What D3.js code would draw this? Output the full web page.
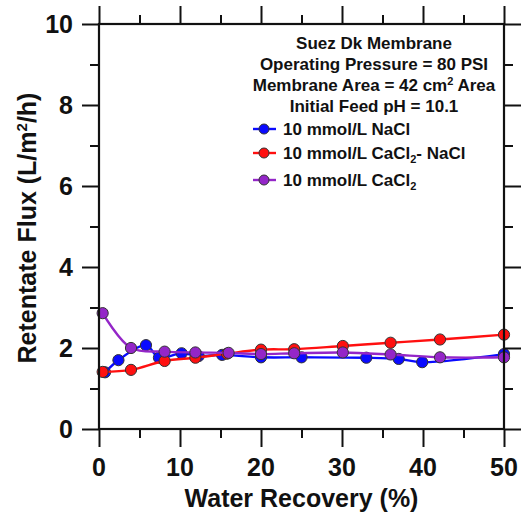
<!DOCTYPE html>
<html>
<head>
<meta charset="utf-8">
<script src="https://cdn.jsdelivr.net/npm/d3@7"></script>
<style>
  html, body { margin: 0; padding: 0; background: #fff; }
  svg { display: block; font-family: "Liberation Sans", Arial, sans-serif; font-weight: bold; }
</style>
</head>
<body>
<svg id="chart" width="522" height="518"></svg>
<script>
// Water recovery (%) and retentate flux (L/m²/h) per feed solution
const naclX = [0.74, 2.4, 5.8, 7.4, 10.2, 12.3, 15.2, 20, 25, 33, 37, 39.9, 50];
const naclY = [1.40, 1.70, 2.07, 1.76, 1.87, 1.80, 1.83, 1.77, 1.77, 1.76, 1.73, 1.65, 1.85];

const mixX = [0.45, 3.95, 8.1, 11.9, 15.8, 20, 24.1, 30.1, 36.0, 42.1, 50];
const mixY = [1.41, 1.46, 1.68, 1.76, 1.86, 1.96, 1.97, 2.05, 2.13, 2.21, 2.33];

const cacl2X = [0.45, 3.95, 8.1, 11.9, 16.0, 20, 24.1, 30.1, 36.0, 42.1, 50];
const cacl2Y = [2.86, 2.00, 1.91, 1.89, 1.88, 1.85, 1.87, 1.89, 1.84, 1.77, 1.77];

const xTicks = [0, 10, 20, 30, 40, 50];
const yTicks = [0, 2, 4, 6, 8, 10];
const xMinor = [5, 15, 25, 35, 45];
const yMinor = [1, 3, 5, 7, 9];

const headerLines = ["Suez Dk Membrane", "Operating Pressure = 80 PSI", "Initial Feed pH = 10.1"];

const series = [
  { name: "NaCl", x: naclX, y: naclY, color: "#0a0aff" },
  { name: "CaCl2-NaCl", x: mixX, y: mixY, color: "#ff1010" },
  { name: "CaCl2", x: cacl2X, y: cacl2Y, color: "#9426c8" }
];

const svg = d3.select("#chart");
const plotL = 99, plotR = 504, plotT = 24, plotB = 429;

const x = d3.scaleLinear().domain([0, 50]).range([plotL, plotR]);
const y = d3.scaleLinear().domain([0, 10]).range([plotB, plotT]);

// Data lines and markers
const line = d3.line().curve(d3.curveCatmullRom.alpha(0.5));
series.forEach(s => {
  const pts = s.x.map((v, i) => [x(v), y(s.y[i])]);
  svg.append("path")
    .attr("d", line(pts))
    .attr("fill", "none")
    .attr("stroke", s.color)
    .attr("stroke-width", 2.4);
  svg.append("g").selectAll("circle").data(pts).join("circle")
    .attr("cx", d => d[0]).attr("cy", d => d[1]).attr("r", 5.6)
    .attr("fill", s.color).attr("stroke", "#333").attr("stroke-width", 1);
});

// Frame axes: ticks outward on all four sides
function styleAxis(g) {
  g.select(".domain").remove();
  g.selectAll("line").attr("stroke", "#111").attr("stroke-width", 2);
  g.selectAll("text").remove();
}
svg.append("g").attr("transform", `translate(0,${plotB})`)
  .call(d3.axisBottom(x).tickValues(xTicks).tickSize(18)).call(styleAxis);
svg.append("g").attr("transform", `translate(0,${plotB})`)
  .call(d3.axisBottom(x).tickValues(xMinor).tickSize(9)).call(styleAxis);
svg.append("g").attr("transform", `translate(0,${plotT})`)
  .call(d3.axisTop(x).tickValues(xTicks).tickSize(18)).call(styleAxis);
svg.append("g").attr("transform", `translate(0,${plotT})`)
  .call(d3.axisTop(x).tickValues(xMinor).tickSize(9)).call(styleAxis);
svg.append("g").attr("transform", `translate(${plotL},0)`)
  .call(d3.axisLeft(y).tickValues(yTicks).tickSize(17)).call(styleAxis);
svg.append("g").attr("transform", `translate(${plotL},0)`)
  .call(d3.axisLeft(y).tickValues(yMinor).tickSize(9)).call(styleAxis);
svg.append("g").attr("transform", `translate(${plotR},0)`)
  .call(d3.axisRight(y).tickValues(yTicks).tickSize(17)).call(styleAxis);
svg.append("g").attr("transform", `translate(${plotR},0)`)
  .call(d3.axisRight(y).tickValues(yMinor).tickSize(9)).call(styleAxis);

svg.append("rect")
  .attr("x", plotL).attr("y", plotT).attr("width", plotR - plotL).attr("height", plotB - plotT)
  .attr("fill", "none").attr("stroke", "#111").attr("stroke-width", 2.2);

// Tick labels
svg.append("g").selectAll("text").data(xTicks).join("text")
  .attr("x", d => x(d)).attr("y", 476)
  .attr("text-anchor", "middle").attr("font-size", 25).attr("fill", "#111")
  .text(d => d);
svg.append("g").selectAll("text").data(yTicks).join("text")
  .attr("x", 73).attr("y", d => y(d)).attr("dy", "0.36em")
  .attr("text-anchor", "end").attr("font-size", 25).attr("fill", "#111")
  .text(d => d);

// Axis titles
svg.append("text")
  .attr("x", (plotL + plotR) / 2).attr("y", 507)
  .attr("text-anchor", "middle").attr("font-size", 25).attr("fill", "#111")
  .text("Water Recovery (%)");
const yt = svg.append("text")
  .attr("transform", "translate(36,228) rotate(-90)")
  .attr("text-anchor", "middle").attr("font-size", 25).attr("fill", "#111");
yt.append("tspan").text("Retentate Flux (L/m");
yt.append("tspan").attr("font-size", 15).attr("dy", -9).text("2");
yt.append("tspan").attr("dy", 9).text("/h)");

// Header block
const cx = 374;
const hdr = svg.append("g").attr("font-size", 17).attr("fill", "#111").attr("text-anchor", "middle");
hdr.append("text").attr("x", cx).attr("y", 49).text(headerLines[0]);
hdr.append("text").attr("x", cx).attr("y", 70).text(headerLines[1]);
const area = hdr.append("text").attr("x", cx).attr("y", 91);
area.append("tspan").text("Membrane Area = 42 cm");
area.append("tspan").attr("font-size", 11).attr("dy", -6).text("2");
area.append("tspan").attr("dy", 6).text(" Area");
hdr.append("text").attr("x", cx).attr("y", 112).text(headerLines[2]);

// Legend
const legendY = [129, 153, 180];
const leg = svg.append("g").attr("font-size", 17).attr("fill", "#111");
series.forEach((s, i) => {
  const ly = legendY[i];
  leg.append("line").attr("x1", 253).attr("x2", 276).attr("y1", ly).attr("y2", ly)
    .attr("stroke", s.color).attr("stroke-width", 2.4);
  leg.append("circle").attr("cx", 264).attr("cy", ly).attr("r", 5)
    .attr("fill", s.color).attr("stroke", "#333").attr("stroke-width", 1);
});
const t0 = leg.append("text").attr("x", 283).attr("y", legendY[0]).attr("dy", "0.35em");
t0.text("10 mmol/L NaCl");
const t1 = leg.append("text").attr("x", 283).attr("y", legendY[1]).attr("dy", "0.35em");
t1.append("tspan").text("10 mmol/L CaCl");
t1.append("tspan").attr("font-size", 11).attr("dy", 4).text("2");
t1.append("tspan").attr("dy", -4).text("- NaCl");
const t2 = leg.append("text").attr("x", 283).attr("y", legendY[2]).attr("dy", "0.35em");
t2.append("tspan").text("10 mmol/L CaCl");
t2.append("tspan").attr("font-size", 11).attr("dy", 4).text("2");
</script>
</body>
</html>
